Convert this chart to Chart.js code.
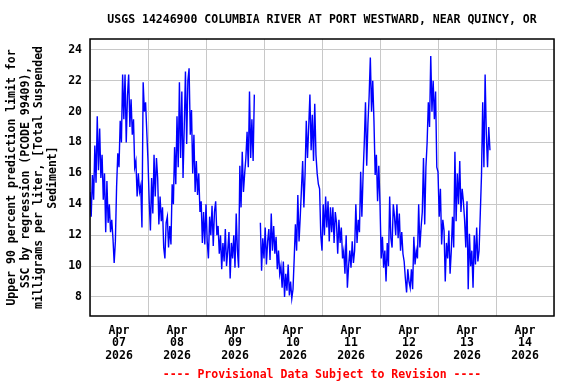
<!DOCTYPE html>
<html>
<head>
<meta charset="utf-8">
<script src="https://cdn.jsdelivr.net/npm/chart.js@4/dist/chart.umd.min.js"></script>
<style>
  html, body { margin: 0; padding: 0; background: #fff; }
  #wrap { width: 576px; height: 384px; }
</style>
</head>
<body>
<div id="wrap"><canvas id="sscChart" width="576" height="384"></canvas></div>
<script>
const chartTitle = 'USGS 14246900 COLUMBIA RIVER AT PORT WESTWARD, NEAR QUINCY, OR';
const footerText = '---- Provisional Data Subject to Revision ----';
const yTitle = ['Upper 90 percent prediction limit for', 'SSC by regression (PCODE 99409),',
    'milligrams per liter, [Total Suspended', 'Sediment]'];

// x axis: hours since Apr 07 2026 00:00
const dayLabels = ['07', '08', '09', '10', '11', '12', '13', '14'];
const yTicks = [8, 10, 12, 14, 16, 18, 20, 22, 24];
const startHour = 0;
const stepHours = 0.5;

// readings every 30 minutes, null = missing record
const values = [
    14.8, 13.2, 15.9, 14.3, 17.8, 15.4, 19.7, 16.2, 18.9, 15.7, 17.2, 14.3,
    16.0, 12.2, 15.5, 12.8, 14.0, 12.2, 13.0, 11.8, 10.2, 11.6, 15.1, 17.3,
    16.4, 19.4, 18.0, 22.4, 19.5, 22.4, 18.0, 21.0, 22.4, 19.0, 20.8, 18.5,
    19.5, 16.4, 16.8, 14.5, 16.0, 14.8, 15.2, 12.5, 21.9, 20.0, 20.6, 18.7,
    16.8, 14.2, 12.3, 15.7, 13.4, 17.2, 14.5, 17.0, 15.7, 12.7, 14.5, 12.9,
    13.8, 11.2, 10.5, 12.8, 13.2, 11.2, 12.6, 11.4, 15.3, 14.0, 17.7, 15.3,
    19.7, 16.4, 21.9, 17.0, 21.3, 15.7, 19.0, 22.6, 17.9, 22.0, 22.8, 18.5,
    20.1, 16.0, 18.5, 14.8, 16.8, 14.6, 16.0, 13.5, 14.2, 11.5, 13.5, 11.4,
    14.0, 11.6, 10.5, 13.2, 12.0, 13.9, 11.3, 13.5, 14.2, 12.0, 12.6, 10.8,
    12.0, 9.8, 11.5, 10.3, 12.4, 10.0, 11.0, 12.2, 9.2, 11.5, 10.5, 12.0,
    9.9, 13.4, 11.0, 9.9, 16.5, 13.8, 17.4, 14.8, 16.0, 17.0, 18.7, 16.4,
    21.3, 17.0, 19.5, 16.8, 21.1, null, null, null, null, 12.8, 9.7, 11.8,
    10.5, 12.5, 10.1, 11.6, 12.4, 10.4, 13.4, 11.0, 12.6, 10.8, 11.9, 9.8,
    11.0, 9.5, 10.0, 8.6, 10.3, 8.0, 9.5, 8.4, 10.1, 8.1, 9.0, 7.9,
    8.5, 10.5, 12.7, 11.0, 14.6, 11.6, 13.2, 15.0, 16.8, 13.8, 16.0, 19.4,
    17.0, 19.0, 21.1, 17.5, 19.8, 16.8, 20.5, 17.2, 16.0, 15.3, 15.0, 12.0,
    11.0, 14.0, 12.0, 14.5, 12.5, 14.2, 11.6, 13.8, 12.2, 13.8, 11.5, 13.5,
    12.8, 10.8, 13.0, 11.5, 12.5, 10.5, 11.0, 9.5, 12.0, 8.6, 10.0, 11.0,
    9.9, 11.6, 10.2, 11.0, 14.0, 11.5, 13.0, 12.2, 16.1, 13.2, 15.9, 18.0,
    20.6, 16.5, 19.2, 21.0, 23.5, 20.0, 22.0, 19.4, 15.9, 17.2, 14.2, 16.5,
    14.0, 10.5, 11.9, 9.9, 11.0, 9.0, 11.5, 10.0, 14.5, 11.8, 11.2, 14.0,
    13.2, 12.0, 14.0, 11.8, 13.4, 11.0, 12.2, 10.8, 10.3, 9.2, 8.3, 9.8,
    9.0, 8.6, 9.8, 8.5, 11.9, 10.1, 11.0, 10.5, 14.0, 11.2, 12.5, 13.5,
    17.0, 12.7, 16.4, 18.0, 20.6, 19.0, 23.6, 20.0, 22.0, 19.5, 21.3, 16.4,
    16.1, 13.2, 15.0, 11.4, 13.0, 12.3, 9.0, 11.5, 10.5, 12.3, 9.5, 11.0,
    13.2, 11.2, 17.4, 12.9, 16.0, 14.0, 16.8, 13.5, 15.0, 14.2, 13.0, 11.2,
    14.2, 8.5, 12.1, 10.0, 11.0, 8.6, 12.0, 10.1, 12.5, 10.3, 11.0, 13.4,
    15.9, 20.6, 16.4, 22.4, 18.5, 16.4, 19.0, 17.5
];

const points = values.map((v, i) => ({ x: startHour + i * stepHours, y: v }));
const monoBold = { family: "'DejaVu Sans Mono', monospace", size: 11.5, weight: 'bold' };

const framePlugin = {
    id: 'frame',
    afterDraw(chart) {
        const { ctx, chartArea: a } = chart;
        ctx.save();
        ctx.strokeStyle = '#000';
        ctx.lineWidth = 1.5;
        ctx.strokeRect(a.left, a.top, a.right - a.left, a.bottom - a.top);
        ctx.font = 'bold 11.5px "DejaVu Sans Mono", monospace';
        ctx.textAlign = 'center';
        ctx.textBaseline = 'middle';
        const cx = (a.left + a.right) / 2;
        ctx.fillStyle = '#000';
        ctx.fillText(chartTitle, cx, 20);
        ctx.fillStyle = '#ff0000';
        ctx.fillText(footerText, cx, 375);
        ctx.restore();
    }
};

const ctx = document.getElementById('sscChart');
const sscChart = new Chart(ctx, {
    type: 'line',
    data: {
        datasets: [{
            data: points,
            borderColor: '#0000ff',
            borderWidth: 1.4,
            pointRadius: 0,
            tension: 0,
            spanGaps: false
        }]
    },
    options: {
        responsive: false,
        animation: false,
        parsing: false,
        layout: { padding: { top: 39, right: 22, left: 0, bottom: 0 } },
        plugins: {
            legend: { display: false },
            tooltip: { enabled: false }
        },
        scales: {
            x: {
                type: 'linear',
                min: 0,
                max: 192,
                afterBuildTicks(scale) {
                    const t = [];
                    for (let h = 0; h <= 192; h += 12) t.push({ value: h });
                    scale.ticks = t;
                },
                afterFit(scale) { scale.height = 68; },
                grid: {
                    color: (c) => (c.tick && c.tick.value % 24 === 0) ? '#c8c8c8' : 'rgba(0,0,0,0)',
                    drawTicks: false
                },
                border: { display: false },
                ticks: {
                    autoSkip: false,
                    maxRotation: 0,
                    padding: 8.4,
                    color: '#000',
                    font: { ...monoBold, lineHeight: 1.1 },
                    callback: (v) => (v % 24 === 12) ? ['Apr', dayLabels[Math.floor(v / 24)], '2026'] : ''
                }
            },
            y: {
                min: 6.77,
                max: 24.7,
                afterBuildTicks(scale) { scale.ticks = yTicks.map(v => ({ value: v })); },
                afterFit(scale) { scale.width = 90; },
                grid: { color: '#c8c8c8', drawTicks: false },
                border: { display: false },
                ticks: { padding: 8, color: '#000', font: monoBold },
                title: {
                    display: true,
                    text: yTitle,
                    color: '#000',
                    font: { ...monoBold, lineHeight: 1.2 },
                    padding: { top: 5, bottom: 0 }
                }
            }
        }
    },
    plugins: [framePlugin]
});
</script>
</body>
</html>
